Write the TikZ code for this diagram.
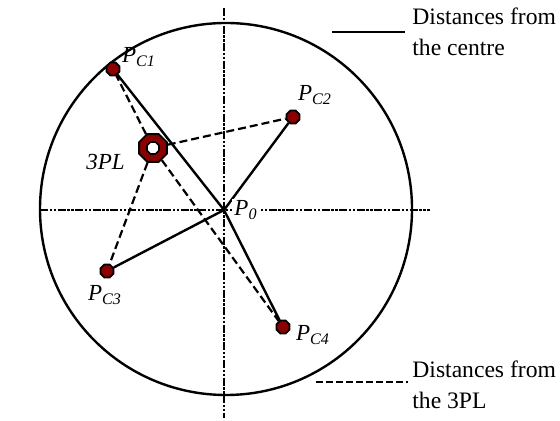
\documentclass[tikz,border=0pt]{standalone}
\usepackage{fontspec}
\setmainfont{Liberation Serif}
\usetikzlibrary{shapes.geometric}
\definecolor{ptred}{RGB}{139,0,0}

\begin{document}
\begin{tikzpicture}[x=0.5pt,y=-0.5pt,
  axis/.style={line width=1.4pt,dash pattern=on 4pt off 0.8pt on 1.2pt off 0.8pt on 1.2pt off 0.8pt},
  centreline/.style={line width=1.2pt},
  tplline/.style={line width=1.1pt,dash pattern=on 4pt off 2pt},
  client/.style={regular polygon,regular polygon sides=8,fill=ptred,draw=black,
    line width=0.9pt,minimum size=7pt,inner sep=0pt},
  hub/.style={regular polygon,regular polygon sides=8,fill=ptred,draw=black,
    line width=0.9pt,minimum size=15pt,inner sep=0pt},
  hole/.style={regular polygon,regular polygon sides=8,fill=white,draw=black,
    line width=0.8pt,minimum size=6.5pt,inner sep=0pt},
  lbl/.style={font=\fontsize{11.5}{14}\selectfont\itshape,inner sep=1pt},
  legend/.style={font=\fontsize{11.8}{15.5}\selectfont,align=left,inner sep=0pt,anchor=west}]
\useasboundingbox (0,0) rectangle (560,421);

% axes and region
\draw[axis] (224,8) -- (224,418);
\draw[axis] (40,210) -- (430,210);
\draw[line width=1.2pt] (226,209) circle[radius=186];

% centre, clients and the 3PL
\coordinate (p0) at (224,210);
\node[client] (c1) at (113,69) {};
\node[client] (c2) at (293,117) {};
\node[client] (c3) at (107,271) {};
\node[client] (c4) at (283,327) {};
\node[hub] (tpl) at (153,148) {};
\node[hole] (tplin) at (tpl) {};

% distances
\foreach \c in {c1,c2,c3,c4}{
  \draw[centreline] (p0) -- (\c);
  \draw[tplline] (tpl) -- (\c);
}

% labels
\node[lbl,fill=white] (lp0) at (246,210) {P\textsubscript{0}};
\node[lbl] (lc1) at (139,57) {P\textsubscript{C1}};
\node[lbl] (lc2) at (315,95) {P\textsubscript{C2}};
\node[lbl] (lc3) at (105,295) {P\textsubscript{C3}};
\node[lbl] (lc4) at (313,335) {P\textsubscript{C4}};
\node[lbl,anchor=east] (ltpl) at (127,162) {3PL};

% legend
\coordinate (s1) at (332,32);
\coordinate (s2) at (405,32);
\draw[centreline] (s1) -- (s2);
\node[legend] (ls) at (412,32) {Distances from\\the centre};
\coordinate (d1) at (316,382);
\coordinate (d2) at (408,382);
\draw[line width=1.3pt,dash pattern=on 3.5pt off 1.5pt] (d1) -- (d2);
\node[legend] (ld) at (412,385) {Distances from\\the 3PL};
\end{tikzpicture}
\end{document}
